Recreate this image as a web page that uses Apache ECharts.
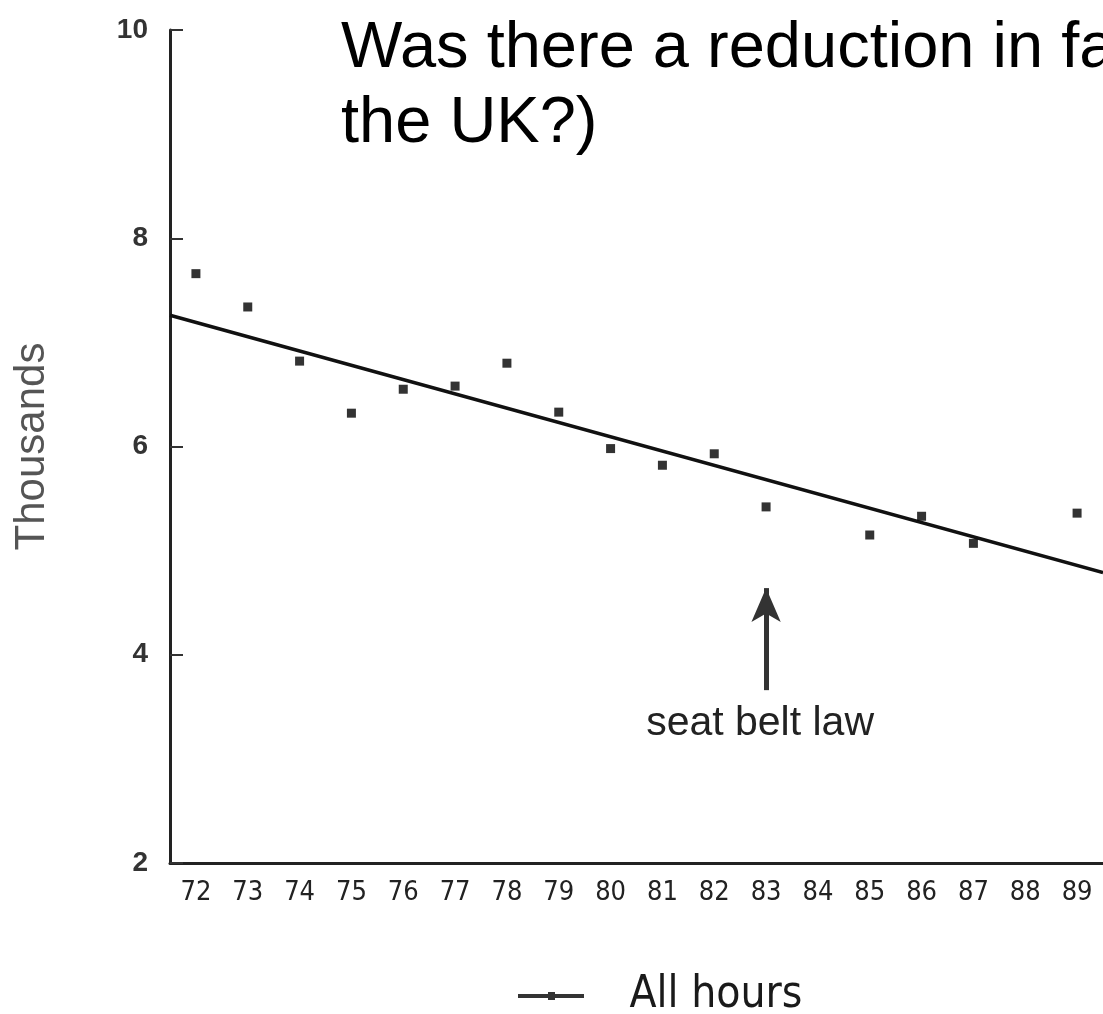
<!DOCTYPE html>
<html><head><meta charset="utf-8">
<script src="https://cdn.jsdelivr.net/npm/echarts@6/dist/echarts.min.js"></script>
<style>html,body{margin:0;padding:0;background:#fff;overflow:hidden}#c{width:1103px;height:1014px}</style>
</head><body><div id="c"></div>
<script>
// Data (thousands of road deaths, UK)
const years = ['72','73','74','75','76','77','78','79','80','81','82','83','84','85','86','87','88','89'];
const deaths = [7.66, 7.34, 6.82, 6.32, 6.55, 6.58, 6.80, 6.33, 5.98, 5.82, 5.93, 5.42, null, 5.15, 5.33, 5.07, null, 5.36];
const trendX = [71.5, 89.5];
const trendY = [7.26, 4.79];
const yMin = 2, yMax = 10, yStep = 2;
const lawYear = '83';
const arrowBase = 3.66, arrowTip = 4.64, lawLabelValue = 3.34;
const titleText = 'Was there a reduction in fatalities (in\nthe UK?)';
const seriesName = 'All hours';

const chart = echarts.init(document.getElementById('c'), null, {renderer: 'canvas'});
const narrow = '"Liberation Sans Narrow", "Arial Narrow", "DejaVu Sans Condensed", sans-serif';
const sans = '"Liberation Sans", Arial, Helvetica, sans-serif';
chart.setOption({
  animation: false,
  backgroundColor: '#fff',
  title: {
    text: titleText, left: 336, top: 7,
    textStyle: {fontSize: 65, fontWeight: 'normal', color: '#000', fontFamily: sans, lineHeight: 75}
  },
  grid: {left: 170, right: -7, top: 30, bottom: 151, containLabel: false},
  legend: {
    data: [{name: seriesName, icon: 'path://M0,2L66,2L66,6L0,6Z M30,0L37,0L37,8L30,8Z'}],
    left: 513, top: 969, itemWidth: 67, itemHeight: 8, selectedMode: false,
    textStyle: {fontSize: 44, fontFamily: narrow, color: '#1a1a1a', padding: [0, 0, 11, 40]}
  },
  xAxis: [{
    type: 'category', data: years, boundaryGap: true,
    axisLine: {lineStyle: {color: '#222', width: 3}},
    axisTick: {alignWithLabel: true, inside: true, length: 11, lineStyle: {color: '#333', width: 2}},
    axisLabel: {margin: 16, fontSize: 27, fontFamily: narrow, color: '#222', interval: 0},
    splitLine: {show: false}
  }, {
    type: 'value', min: trendX[0], max: trendX[1], show: false, splitLine: {show: false}
  }],
  yAxis: {
    type: 'value', min: yMin, max: yMax, interval: yStep,
    name: 'Thousands', nameLocation: 'middle', nameRotate: 90, nameGap: 117,
    nameTextStyle: {fontSize: 42, color: '#555', fontFamily: sans},
    axisLine: {show: true, lineStyle: {color: '#222', width: 3}},
    axisTick: {show: true, inside: true, length: 13, lineStyle: {color: '#333', width: 2}},
    axisLabel: {margin: 22, fontSize: 28, fontWeight: 'bold', color: '#333', fontFamily: sans},
    splitLine: {show: false}
  },
  series: [{
    name: seriesName, type: 'scatter', data: deaths, symbol: 'rect', symbolSize: 9,
    itemStyle: {color: '#000'}, z: 3,
    markLine: {
      silent: true, symbol: ['none', 'arrow'], symbolSize: [22, 34],
      lineStyle: {color: '#333', width: 5, type: 'solid'},
      label: {show: false}, emphasis: {disabled: true},
      data: [[{coord: [lawYear, arrowBase]}, {coord: [lawYear, arrowTip]}]]
    },
    markPoint: {
      silent: true, symbol: 'circle', symbolSize: 1, itemStyle: {color: 'rgba(0,0,0,0)'},
      label: {show: true, position: 'inside', formatter: 'seat belt law', fontSize: 41, color: '#222', fontFamily: sans, offset: [-6, 0]},
      data: [{coord: [lawYear, lawLabelValue]}]
    }
  }, {
    name: 'trend', type: 'line', xAxisIndex: 1,
    data: trendX.map((x, i) => [x, trendY[i]]),
    showSymbol: false, symbol: 'none', lineStyle: {color: '#111', width: 3.5}, z: 2, silent: true
  }]
});
</script></body></html>
